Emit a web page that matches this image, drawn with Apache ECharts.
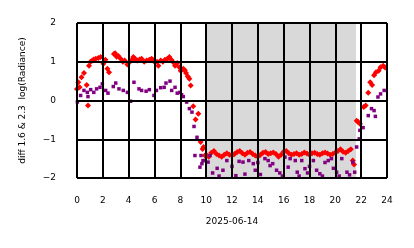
<!DOCTYPE html>
<html>
<head>
<meta charset="utf-8">
<script src="https://cdn.jsdelivr.net/npm/echarts@6/dist/echarts.min.js"></script>
<style>html,body{margin:0;padding:0;background:#fff}#c{width:414px;height:248px}</style>
</head>
<body>
<div id="c"></div>
<script>
// ---- data ----
const xTickValues = [0,2,4,6,8,10,12,14,16,18,20,22,24];
const yTickValues = [-2,-1,0,1,2];
const shadeRange = [9.95, 21.6];
const xTitle = '2025-06-14';
const yTitle = 'diff 1.6 & 2.3  log(Radiance)';

const redHours = [
 0.0,0.1,0.2,0.35,0.54,0.75,0.85,0.93,1.05,1.18,1.3,1.45,1.65,1.83,2.04,2.2,2.35,2.48,2.86,2.95,
 3.07,3.2,3.38,3.55,3.69,3.9,4.1,4.25,4.36,4.5,4.67,4.85,5.0,5.2,5.39,5.6,5.78,5.9,6.04,6.2,
 6.3,6.48,6.65,6.81,7.0,7.15,7.3,7.45,7.59,7.76,7.92,8.03,8.13,8.23,8.35,8.44,8.58,8.7,8.8,9.0,
 9.18,9.39,9.57,9.72,9.8,9.9,
 10.0,10.2,10.4,10.6,10.8,11.0,11.2,11.4,11.6,11.8,12.0,12.2,12.4,12.6,12.8,13.0,13.2,13.4,13.6,13.8,
 14.0,14.2,14.4,14.6,14.8,15.0,15.2,15.4,15.6,15.8,16.0,16.2,16.4,16.6,16.8,17.0,17.2,17.4,17.6,17.8,
 18.0,18.2,18.4,18.6,18.8,19.0,19.2,19.4,19.6,19.8,20.0,20.2,20.4,20.6,20.8,21.0,21.2,21.35,21.45,
 21.65,21.75,21.9,22.2,22.35,22.55,22.7,22.85,23.0,23.15,23.35,23.5,23.7,23.85
];
const redValues = [
 0.3,0.47,0.34,0.6,0.71,0.4,-0.13,0.9,1.0,1.03,1.06,1.08,1.1,1.12,0.95,1.05,0.82,0.73,1.2,1.22,
 1.13,1.15,1.08,1.0,1.03,0.93,1.0,1.05,1.12,1.08,1.03,1.06,1.08,1.0,1.03,1.05,1.08,1.04,0.99,1.0,
 0.9,1.03,1.0,1.05,1.08,1.12,1.05,0.99,0.9,0.97,0.86,0.77,0.8,0.82,0.78,0.71,0.62,0.56,0.39,-0.15,
 -0.49,-0.34,-1.07,-1.25,-1.2,-1.42,
 -1.40,-1.45,-1.35,-1.30,-1.38,-1.42,-1.45,-1.40,-1.36,-1.40,-1.42,-1.38,-1.33,-1.30,-1.36,-1.40,-1.35,-1.33,-1.38,-1.42,
 -1.45,-1.40,-1.35,-1.33,-1.38,-1.36,-1.34,-1.38,-1.45,-1.40,-1.32,-1.30,-1.36,-1.40,-1.38,-1.36,-1.40,-1.38,-1.34,-1.37,
 -1.40,-1.36,-1.35,-1.38,-1.40,-1.36,-1.34,-1.37,-1.40,-1.38,-1.34,-1.30,-1.26,-1.32,-1.35,-1.30,-1.26,-1.55,-1.65,
 -0.52,-0.55,-0.6,-0.17,-0.13,0.2,0.47,0.4,0.65,0.73,0.77,0.86,0.9,0.85
];

const purpleHours = [
 0.03,0.28,0.54,0.8,0.85,1.06,1.3,1.52,1.78,1.96,2.22,2.4,2.81,3.0,3.25,3.58,3.9,4.15,4.41,4.8,
 5.0,5.35,5.6,5.96,6.15,6.48,6.75,6.89,7.2,7.33,7.59,7.76,7.97,8.1,8.23,8.49,8.7,8.9,9.06,9.29,
 9.13,9.6,9.52,9.67,9.75,
 9.9,10.15,10.3,10.5,10.85,11.0,11.3,11.6,12.0,12.3,12.55,12.85,13.0,13.3,13.65,13.8,14.0,14.2,14.55,14.8,
 14.95,15.15,15.45,15.7,15.9,16.1,16.35,16.5,16.9,17.05,17.2,17.4,17.65,17.85,18.0,18.3,18.55,18.8,19.0,19.2,
 19.45,19.7,19.85,20.1,20.3,20.5,20.9,21.1,21.35,21.5,21.65,21.85,
 21.9,22.15,22.55,22.8,23.0,23.1,23.3,23.5,23.78
];
const purpleValues = [
 -0.04,0.13,0.26,0.21,0.1,0.28,0.21,0.3,0.34,0.43,0.26,0.19,0.36,0.45,0.3,0.26,0.21,-0.02,0.47,0.3,
 0.26,0.24,0.28,0.13,0.26,0.33,0.34,0.45,0.5,0.26,0.34,0.19,0.21,0.15,0.1,-0.04,-0.21,-0.3,-0.67,-0.95,
 -1.42,-1.42,-1.72,-1.63,-1.55,
 -1.55,-1.59,-1.42,-1.87,-1.75,-1.95,-1.8,-1.55,-1.7,-1.94,-1.57,-1.59,-1.9,-1.55,-1.63,-1.8,-1.6,-1.91,-1.5,-1.55,
 -1.68,-1.63,-1.8,-1.87,-1.95,-1.46,-1.72,-1.5,-1.55,-1.85,-1.95,-1.55,-1.76,-1.87,-1.7,-1.55,-1.8,-1.89,-1.95,-1.6,
 -1.55,-1.5,-1.75,-1.85,-1.95,-1.5,-1.85,-1.92,-1.59,-1.85,-1.2,-0.99,
 -0.77,-0.7,-0.39,-0.21,-0.26,-0.41,0.09,0.17,0.26
];

// ---- chart ----
const pair = (xs, ys) => xs.map((x, i) => [x, ys[i]]);
const fam = '"DejaVu Sans", sans-serif';
const chart = echarts.init(document.getElementById('c'), null, {renderer: 'canvas'});
chart.setOption({
  animation: false,
  backgroundColor: '#fff',
  grid: {left: 77, right: 27, top: 23, bottom: 70, containLabel: false},
  xAxis: {
    type: 'value', min: xTickValues[0], max: xTickValues[xTickValues.length - 1], interval: 2,
    offset: 9, z: 5,
    name: xTitle, nameLocation: 'middle', nameGap: 30,
    nameTextStyle: {color: '#000', fontSize: 9, fontFamily: fam},
    axisLine: {show: false},
    axisTick: {show: true, inside: true, length: 9, lineStyle: {color: '#000', width: 2}},
    axisLabel: {color: '#000', fontSize: 9, fontFamily: fam, margin: 9},
    splitLine: {show: true, lineStyle: {color: '#000', width: 2}}
  },
  yAxis: {
    type: 'value', min: yTickValues[0], max: yTickValues[yTickValues.length - 1], interval: 1,
    offset: 10, z: 5,
    name: yTitle, nameLocation: 'middle', nameGap: 40, nameRotate: 90,
    nameTextStyle: {color: '#000', fontSize: 9, fontFamily: fam},
    axisLine: {show: false},
    axisTick: {show: true, inside: true, length: 10, lineStyle: {color: '#000', width: 2}},
    axisLabel: {color: '#000', fontSize: 9, fontFamily: fam, margin: 11,
      formatter: v => String(v).replace('-', '\u2212')},
    splitLine: {show: true, lineStyle: {color: '#000', width: 2}}
  },
  series: [
    {
      type: 'scatter', name: 'shade', data: [], silent: true,
      markArea: {
        silent: true,
        itemStyle: {color: 'rgba(0,0,0,0.15)'},
        data: [[{xAxis: shadeRange[0], yAxis: yTickValues[0]}, {xAxis: shadeRange[1], yAxis: yTickValues[yTickValues.length - 1]}]]
      }
    },
    {
      type: 'scatter', name: 'red', data: pair(redHours, redValues),
      symbol: 'diamond', symbolSize: 6, itemStyle: {color: '#ff0000', opacity: 1}
    },
    {
      type: 'scatter', name: 'purple', data: pair(purpleHours, purpleValues),
      symbol: 'rect', symbolSize: 3.5, itemStyle: {color: '#800080', opacity: 1}
    }
  ]
});
</script>
</body>
</html>
